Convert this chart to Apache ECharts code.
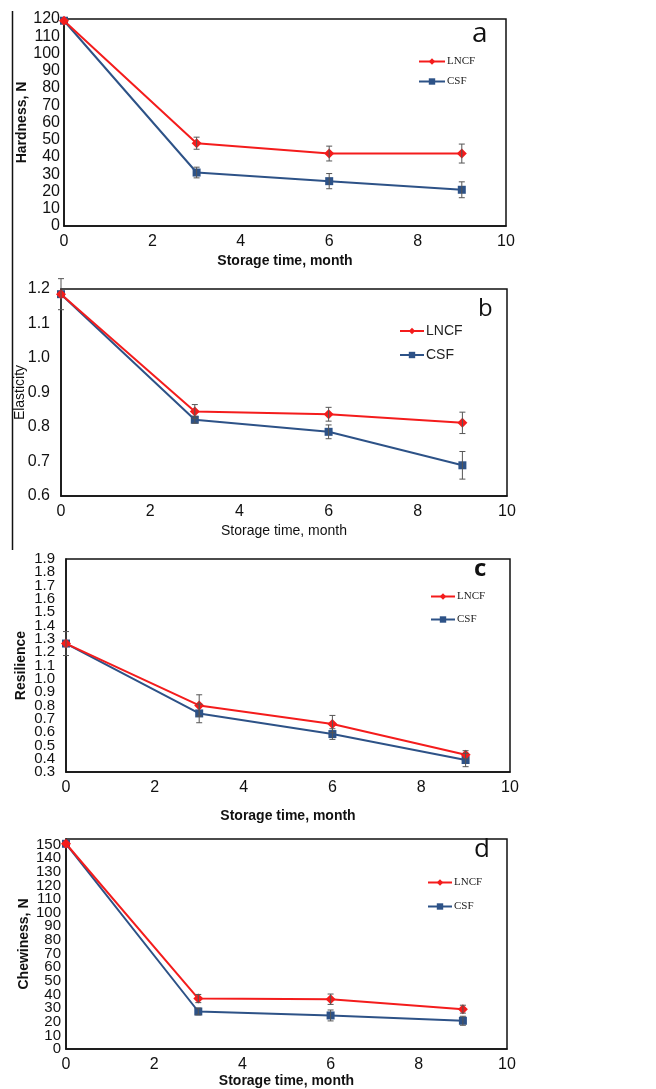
<html>
<head>
    <meta charset="utf-8">
    <script src="https://cdn.jsdelivr.net/npm/echarts@6/dist/echarts.min.js"></script>
    <style>
        body { margin: 0; background: #fff; }
    </style>
</head>
<body>
    <div id="main" style="width: 656px;height:1089px;"></div>

    <script>
        // storage time, months
        var months = [0, 3, 6, 9];

        // a - hardness, N
        var hardLNCF = [119, 48, 42, 42];
        var hardLNCFErr = [0, 3.5, 4.3, 5.5];
        var hardCSF = [119, 31, 26, 21];
        var hardCSFErr = [0, 3.1, 4.4, 4.6];

        // b - elasticity
        var elasLNCF = [1.185, 0.845, 0.837, 0.812];
        var elasLNCFErr = [0, 0.02, 0.02, 0.031];
        var elasCSF = [1.185, 0.821, 0.786, 0.689];
        var elasCSFErr = [0.045, 0.01, 0.02, 0.04];

        // c - resilience
        var resLNCF = [1.265, 0.80, 0.66, 0.43];
        var resLNCFErr = [0, 0.08, 0.065, 0.03];
        var resCSF = [1.265, 0.74, 0.585, 0.39];
        var resCSFErr = [0.09, 0.07, 0.04, 0.05];

        // d - chewiness, N
        var chewLNCF = [150.5, 37, 36.5, 29.2];
        var chewLNCFErr = [0, 3, 3.8, 2.9];
        var chewCSF = [150.5, 27.5, 24.6, 20.7];
        var chewCSFErr = [0, 2.5, 4, 3.3];

        var red = '#f41c1c';
        var blue = '#2d5287';

        function pairs(vals) {
            var out = [];
            for (var i = 0; i < months.length; i++) out.push([months[i], vals[i]]);
            return out;
        }
        function errData(vals, errs) {
            var out = [];
            for (var i = 0; i < months.length; i++) {
                if (errs[i] > 0) out.push([months[i], vals[i] - errs[i], vals[i] + errs[i]]);
            }
            return out;
        }
        function renderErr(params, api) {
            var lo = api.coord([api.value(0), api.value(1)]);
            var hi = api.coord([api.value(0), api.value(2)]);
            var w = 3;
            var st = { stroke: '#555', lineWidth: 1 };
            return {
                type: 'group',
                children: [
                    { type: 'line', shape: { x1: lo[0], y1: lo[1], x2: hi[0], y2: hi[1] }, style: st },
                    { type: 'line', shape: { x1: lo[0] - w, y1: lo[1], x2: lo[0] + w, y2: lo[1] }, style: st },
                    { type: 'line', shape: { x1: hi[0] - w, y1: hi[1], x2: hi[0] + w, y2: hi[1] }, style: st }
                ]
            };
        }

        var grids = [
            { left: 64, top: 19, width: 442, height: 207 },
            { left: 61, top: 289, width: 446, height: 207 },
            { left: 66, top: 559, width: 444, height: 213 },
            { left: 66, top: 839, width: 441, height: 210 }
        ];
        for (var g = 0; g < grids.length; g++) {
            grids[g].show = true;
            grids[g].borderColor = '#111';
            grids[g].borderWidth = 1.5;
            grids[g].backgroundColor = 'transparent';
        }

        var xNameGap = [28, 28, 37, 25];
        var xBold = ['bold', 'normal', 'bold', 'bold'];
        var xAxes = [];
        for (var i = 0; i < 4; i++) {
            xAxes.push({
                type: 'value', gridIndex: i, min: 0, max: 10, interval: 2,
                name: 'Storage time, month', nameLocation: 'middle', nameGap: xNameGap[i],
                nameMoveOverlap: false,
                nameTextStyle: { fontFamily: 'Liberation Sans', fontSize: 14, fontWeight: xBold[i], color: '#111' },
                axisLine: { lineStyle: { color: '#111', width: 1.5 } },
                axisTick: { show: false },
                splitLine: { show: false },
                axisLabel: { fontFamily: 'Liberation Sans', fontSize: 16, color: '#111', margin: 8 }
            });
        }

        // label every tick, or only the even / odd steps (parity) for the packed axes
        function stepLabel(min, step, parity, dec) {
            return function (v) {
                var k = Math.round((v - min) / step);
                if (Math.abs(v - (min + k * step)) > step * 0.01) return '';
                if (parity >= 0 && k % 2 !== parity) return '';
                return dec ? v.toFixed(dec) : String(Math.round(v));
            };
        }

        function yAxis(idx, name, min, max, interval, bold, gap, fs, margin, fmt, showMax, overlay) {
            return {
                type: 'value', gridIndex: idx, position: 'left', offset: 0,
                min: min, max: max, interval: interval,
                name: overlay ? '' : name, nameLocation: 'middle', nameGap: gap, nameMoveOverlap: false,
                nameTextStyle: { fontFamily: 'Liberation Sans', fontSize: 14, fontWeight: bold, color: '#111' },
                axisLine: { show: !overlay, onZero: false, lineStyle: { color: '#111', width: 1.5 } },
                axisTick: { show: false },
                splitLine: { show: false },
                axisLabel: {
                    fontFamily: 'Liberation Sans', fontSize: fs, color: '#111', margin: margin,
                    formatter: fmt, showMinLabel: true, showMaxLabel: showMax
                }
            };
        }

        var yAxes = [
            yAxis(0, 'Hardness, N', 0, 120, 10, 'bold', 35, 16, 4, stepLabel(0, 10, -1, 0), true, false),
            yAxis(1, 'Elasticity', 0.6, 1.2, 0.1, 'normal', 34, 16, 11, stepLabel(0.6, 0.1, -1, 1), true, false),
            yAxis(2, 'Resilience', 0.3, 1.9, 0.1, 'bold', 38, 15, 11, stepLabel(0.3, 0.1, 0, 1), true, false),
            yAxis(3, 'Chewiness, N', 0, 154, 10, 'bold', 35, 15, 5, stepLabel(0, 10, 0, 0), false, false),
            yAxis(2, '', 0.3, 1.9, 0.1, 'bold', 38, 15, 11, stepLabel(0.3, 0.1, 1, 1), true, true),
            yAxis(3, '', 0, 154, 10, 'bold', 35, 15, 5, stepLabel(0, 10, 1, 0), false, true)
        ];

        var sets = [
            [hardLNCF, hardLNCFErr, hardCSF, hardCSFErr],
            [elasLNCF, elasLNCFErr, elasCSF, elasCSFErr],
            [resLNCF, resLNCFErr, resCSF, resCSFErr],
            [chewLNCF, chewLNCFErr, chewCSF, chewCSFErr]
        ];
        var series = [];
        for (var i = 0; i < 4; i++) {
            var s = sets[i];
            series.push({
                name: 'LNCF', type: 'line', xAxisIndex: i, yAxisIndex: i, data: pairs(s[0]),
                symbol: 'diamond', symbolSize: 10, z: 3,
                lineStyle: { color: red, width: 2 }, itemStyle: { color: red }
            });
            series.push({
                name: 'CSF', type: 'line', xAxisIndex: i, yAxisIndex: i, data: pairs(s[2]),
                symbol: 'rect', symbolSize: 8, z: 2,
                lineStyle: { color: blue, width: 2 }, itemStyle: { color: blue }
            });
            series.push({
                type: 'custom', xAxisIndex: i, yAxisIndex: i, data: errData(s[0], s[1]),
                renderItem: renderErr, z: 4, silent: true
            });
            series.push({
                type: 'custom', xAxisIndex: i, yAxisIndex: i, data: errData(s[2], s[3]),
                renderItem: renderErr, z: 4, silent: true
            });
        }

        function legend(left, top, gap, font, fs, iw) {
            return {
                data: ['LNCF', 'CSF'], orient: 'vertical', left: left, top: top, padding: 0,
                itemWidth: iw, itemHeight: 8, itemGap: gap, selectedMode: false,
                textStyle: { fontFamily: font, fontSize: fs, color: '#222', padding: [0, 0, 0, -3] }
            };
        }

        function panelTag(txt, x, y, fs, weight) {
            return {
                type: 'text', left: x, top: y,
                style: { text: txt, fontFamily: 'Open Sans', fontSize: fs, fontWeight: weight, fill: '#111' }
            };
        }

        myChart = echarts.init(document.getElementById('main'));
        option = {
            backgroundColor: '#fff',
            animation: false,
            grid: grids,
            xAxis: xAxes,
            yAxis: yAxes,
            legend: [
                legend(418, 56, 9, 'Liberation Serif', 11, 26),
                legend(399, 324, 10, 'Liberation Sans', 14, 24),
                legend(430, 591, 12, 'Liberation Serif', 11, 24),
                legend(427, 877, 13, 'Liberation Serif', 11, 24)
            ],
            series: series,
            graphic: [
                { type: 'line', shape: { x1: 12.5, y1: 11, x2: 12.5, y2: 550 }, style: { stroke: '#111', lineWidth: 1.5 } },
                panelTag('a', 472, 20, 28, 'normal'),
                panelTag('b', 478, 297, 24, 'normal'),
                panelTag('c', 474, 557, 24, 'bold'),
                panelTag('d', 474, 837, 26, 'normal')
            ]
        };
        myChart.setOption(option);
    </script>
</body>
</html>
